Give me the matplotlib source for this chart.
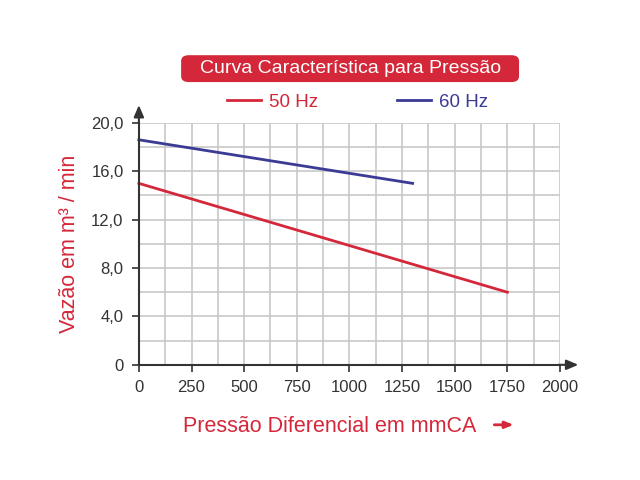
import matplotlib.pyplot as plt
from matplotlib.patches import FancyBboxPatch
from matplotlib.ticker import MultipleLocator

plt.rcParams['font.family'] = ['Liberation Sans', 'DejaVu Sans']

# data
pressure_50 = [0, 1750]
flow_50 = [15.0, 6.0]
pressure_60 = [0, 1300]
flow_60 = [18.6, 15.0]

x_ticks = [0, 250, 500, 750, 1000, 1250, 1500, 1750, 2000]
y_ticks = [0, 4, 8, 12, 16, 20]
y_labels = ["0", "4,0", "8,0", "12,0", "16,0", "20,0"]

red = "#d4283a"
blue = "#3b3b96"
dark = "#333333"

fig = plt.figure(figsize=(6.4, 4.8), dpi=100)
ax = fig.add_axes([0.217, 0.240, 0.658, 0.504])

ax.plot(pressure_50, flow_50, color=red, lw=2, label="50 Hz", clip_on=False)
ax.plot(pressure_60, flow_60, color=blue, lw=2, label="60 Hz", clip_on=False)

ax.set_xlim(0, 2000)
ax.set_ylim(0, 20)
ax.set_xticks(x_ticks)
ax.set_xticklabels([str(v) for v in x_ticks])
ax.set_yticks(y_ticks)
ax.set_yticklabels(y_labels)
ax.xaxis.set_minor_locator(MultipleLocator(125))
ax.yaxis.set_minor_locator(MultipleLocator(2))
ax.grid(which="both", color="#c8c8c8", lw=1.2)
ax.set_axisbelow(True)
ax.tick_params(which="major", colors=dark, labelsize=12, length=5, width=1.2, pad=6)
ax.tick_params(which="minor", length=0)

for s in ["top", "right"]:
    ax.spines[s].set_visible(False)
for s in ["left", "bottom"]:
    ax.spines[s].set_color(dark)
    ax.spines[s].set_linewidth(1.5)

# axis arrows
ax.annotate("", xy=(0, 1.085), xytext=(0, 0.99), xycoords="axes fraction",
            arrowprops=dict(arrowstyle="-|>,head_width=0.3,head_length=0.7", color=dark, lw=1.5))
ax.annotate("", xy=(1.05, 0), xytext=(0.99, 0), xycoords="axes fraction",
            arrowprops=dict(arrowstyle="-|>,head_width=0.3,head_length=0.7", color=dark, lw=1.5))

ax.set_ylabel("Vazão em m³ / min", color=red, fontsize=15.5, labelpad=8)
ax.set_xlabel("Pressão Diferencial em mmCA", color=red, fontsize=15.5)
ax.xaxis.set_label_coords(0.454, -0.21)
ax.annotate("", xy=(0.807, 0.115), xytext=(0.768, 0.115), xycoords="figure fraction",
            arrowprops=dict(arrowstyle="-|>,head_width=0.2,head_length=0.5", color=red, lw=2))

# title box
fig.patches.append(FancyBboxPatch((0.283, 0.829), 0.528, 0.056,
                                  boxstyle="round,pad=0,rounding_size=0.012",
                                  transform=fig.transFigure, fc=red, ec="none"))
fig.text(0.547, 0.858, "Curva Característica para Pressão", color="white", fontsize=14,
         ha="center", va="center")

leg = ax.legend(loc="center", bbox_to_anchor=(0.52, 1.085), ncol=2, frameon=False,
                fontsize=13.5, handlelength=1.8, columnspacing=4.2, handletextpad=0.45)
for line, text in zip(leg.get_lines(), leg.get_texts()):
    text.set_color(line.get_color())

fig.savefig("out.png", dpi=100)
